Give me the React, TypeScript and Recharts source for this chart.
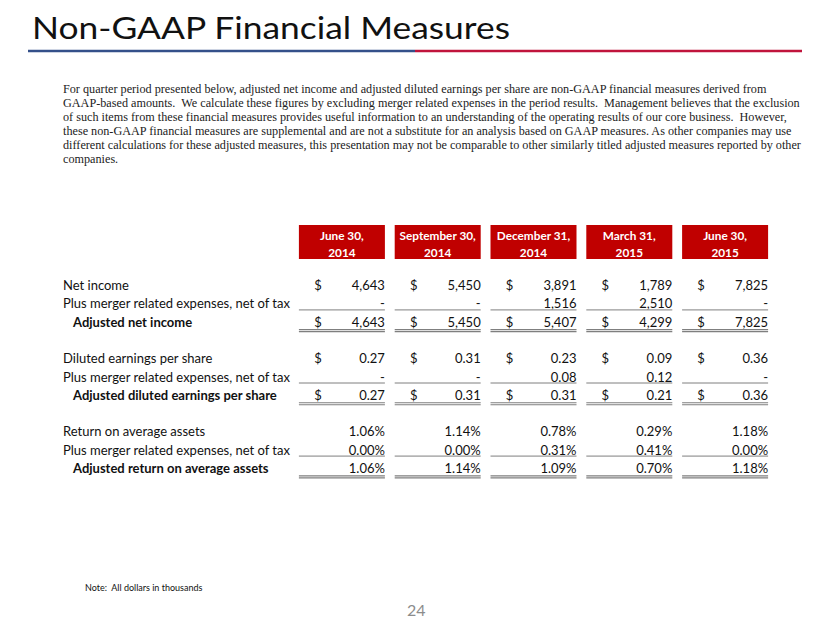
import { Scatter, ScatterChart, XAxis, YAxis } from 'recharts'

const quarters = ['June 30, 2014', 'September 30, 2014', 'December 31, 2014', 'March 31, 2015', 'June 30, 2015']

const netIncome = [4643, 5450, 3891, 1789, 7825]
const mergerNetIncome = [0, 0, 1516, 2510, 0]
const adjustedNetIncome = [4643, 5450, 5407, 4299, 7825]

const dilutedEps = [0.27, 0.31, 0.23, 0.09, 0.36]
const mergerEps = [0, 0, 0.08, 0.12, 0]
const adjustedEps = [0.27, 0.31, 0.31, 0.21, 0.36]

const roaa = [1.06, 1.14, 0.78, 0.29, 1.18]
const mergerRoaa = [0.0, 0.0, 0.31, 0.41, 0.0]
const adjustedRoaa = [1.06, 1.14, 1.09, 0.7, 1.18]

const intro = [
  'For quarter period presented below, adjusted net income and adjusted diluted earnings per share are non-GAAP financial measures derived from',
  'GAAP-based amounts.  We calculate these figures by excluding merger related expenses in the period results.  Management believes that the exclusion',
  'of such items from these financial measures provides useful information to an understanding of the operating results of our core business.  However,',
  'these non-GAAP financial measures are supplemental and are not a substitute for an analysis based on GAAP measures. As other companies may use',
  'different calculations for these adjusted measures, this presentation may not be comparable to other similarly titled adjusted measures reported by other',
  'companies.',
]

const thousands = (v: number) => (v === 0 ? '-' : v.toLocaleString('en-US'))
const perShare = (v: number) => (v === 0 ? '-' : v.toFixed(2))
const percent = (v: number) => v.toFixed(2) + '%'

type Row = {
  label: string
  values?: number[]
  fmt?: (v: number) => string
  dollar?: boolean
  bold?: boolean
  rule?: 'single' | 'double'
}

const rows: Row[] = [
  { label: 'Net income', values: netIncome, fmt: thousands, dollar: true },
  { label: 'Plus merger related expenses, net of tax', values: mergerNetIncome, fmt: thousands, rule: 'single' },
  { label: 'Adjusted net income', values: adjustedNetIncome, fmt: thousands, dollar: true, bold: true, rule: 'double' },
  { label: '' },
  { label: 'Diluted earnings per share', values: dilutedEps, fmt: perShare, dollar: true },
  { label: 'Plus merger related expenses, net of tax', values: mergerEps, fmt: perShare, rule: 'single' },
  { label: 'Adjusted diluted earnings per share', values: adjustedEps, fmt: perShare, dollar: true, bold: true, rule: 'double' },
  { label: '' },
  { label: 'Return on average assets', values: roaa, fmt: percent },
  { label: 'Plus merger related expenses, net of tax', values: mergerRoaa, fmt: percent, rule: 'single' },
  { label: 'Adjusted return on average assets', values: adjustedRoaa, fmt: percent, bold: true, rule: 'double' },
]

const cells = rows.flatMap((r, ri) =>
  quarters.map((q, qi) => ({
    q,
    row: 'r' + ri,
    text: r.values && r.fmt ? r.fmt(r.values[qi]) : '',
    dollar: !!r.dollar,
    rule: r.rule,
  })),
)

const FONT = 'Lato, "DejaVu Sans", sans-serif'
const HALF = 43

function Cell(props: any) {
  const { cx, cy, payload } = props
  if (cx == null || cy == null) return null
  const left = cx - HALF
  const right = cx + HALF
  return (
    <g>
      {payload.dollar && (
        <text x={left + 19} y={cy} textAnchor="middle" dominantBaseline="central" fontSize={13} fontFamily={FONT} fill="#111">
          $
        </text>
      )}
      <text x={right} y={cy} textAnchor="end" dominantBaseline="central" fontSize={13} fontFamily={FONT} fill="#111">
        {payload.text}
      </text>
      {payload.rule === 'single' && <line x1={left} x2={right} y1={cy + 6.5} y2={cy + 6.5} stroke="#7f7f7f" strokeWidth={1} />}
      {payload.rule === 'double' && (
        <g>
          <line x1={left} x2={right} y1={cy + 8} y2={cy + 8} stroke="#7f7f7f" strokeWidth={1.2} />
          <line x1={left} x2={right} y1={cy + 10} y2={cy + 10} stroke="#7f7f7f" strokeWidth={1.2} />
        </g>
      )}
    </g>
  )
}

function HeaderTick(props: any) {
  const { x, y, payload } = props
  const [a, b] = String(payload.value).split(', ')
  return (
    <g>
      <rect x={x - HALF} y={y - 51} width={HALF * 2} height={34} fill="#c00000" />
      <text x={x} y={y - 41} textAnchor="middle" dominantBaseline="central" fontSize={11.8} fontWeight={700} fontFamily={FONT} fill="#fff">
        {a + ','}
      </text>
      <text x={x} y={y - 24} textAnchor="middle" dominantBaseline="central" fontSize={11.8} fontWeight={700} fontFamily={FONT} fill="#fff">
        {b}
      </text>
    </g>
  )
}

function LabelTick(props: any) {
  const { y, payload } = props
  const r = rows[Number(String(payload.value).slice(1))]
  if (!r || !r.label) return null
  return (
    <text x={r.bold ? 73 : 63} y={y} dominantBaseline="central" fontSize={13} fontWeight={r.bold ? 700 : 400} fontFamily={FONT} fill="#111">
      {r.label}
    </text>
  )
}

export default function App() {
  return (
    <div style={{ position: 'absolute', left: 0, top: 0, width: 830, height: 623, background: '#fff' }}>
      <svg width={830} height={70} style={{ position: 'absolute', left: 0, top: 0 }}>
        <text x={32} y={39} fontSize={31} fontFamily={FONT} fill="#111" textLength={478} lengthAdjust="spacingAndGlyphs">
          Non-GAAP Financial Measures
        </text>
        <line x1={28} x2={415} y1={51} y2={51} stroke="#34508a" strokeWidth={2.5} />
        <line x1={415} x2={802} y1={51} y2={51} stroke="#c0143c" strokeWidth={2.5} />
      </svg>
      <div
        style={{
          position: 'absolute',
          left: 63,
          top: 82,
          fontFamily: '"Liberation Serif", "Times New Roman", serif',
          fontSize: 12.2,
          lineHeight: '14px',
          color: '#222',
          whiteSpace: 'pre',
        }}
      >
        {intro.map((l, i) => (
          <div key={i}>{l}</div>
        ))}
      </div>
      <ScatterChart width={830} height={623} margin={{ top: 226, right: 57, bottom: 146, left: 0 }}>
        <XAxis
          xAxisId={0}
          dataKey="q"
          type="category"
          orientation="top"
          allowDuplicatedCategory={false}
          height={50}
          axisLine={false}
          tickLine={false}
          tickSize={0}
          tickMargin={0}
          interval={0}
          tick={<HeaderTick />}
        />
        <YAxis
          yAxisId={0}
          dataKey="row"
          type="category"
          allowDuplicatedCategory={false}
          reversed
          width={294}
          axisLine={false}
          tickLine={false}
          tickSize={0}
          tickMargin={0}
          interval={0}
          tick={<LabelTick />}
        />
        <Scatter data={cells} shape={<Cell />} isAnimationActive={false} />
      </ScatterChart>
      <div style={{ position: 'absolute', left: 85, top: 582, fontFamily: FONT, fontSize: 9, color: '#111', whiteSpace: 'pre' }}>
        Note:  All dollars in thousands
      </div>
      <div style={{ position: 'absolute', left: 407, top: 600, fontFamily: FONT, fontSize: 16, color: '#8c8c8c' }}>24</div>
    </div>
  )
}
